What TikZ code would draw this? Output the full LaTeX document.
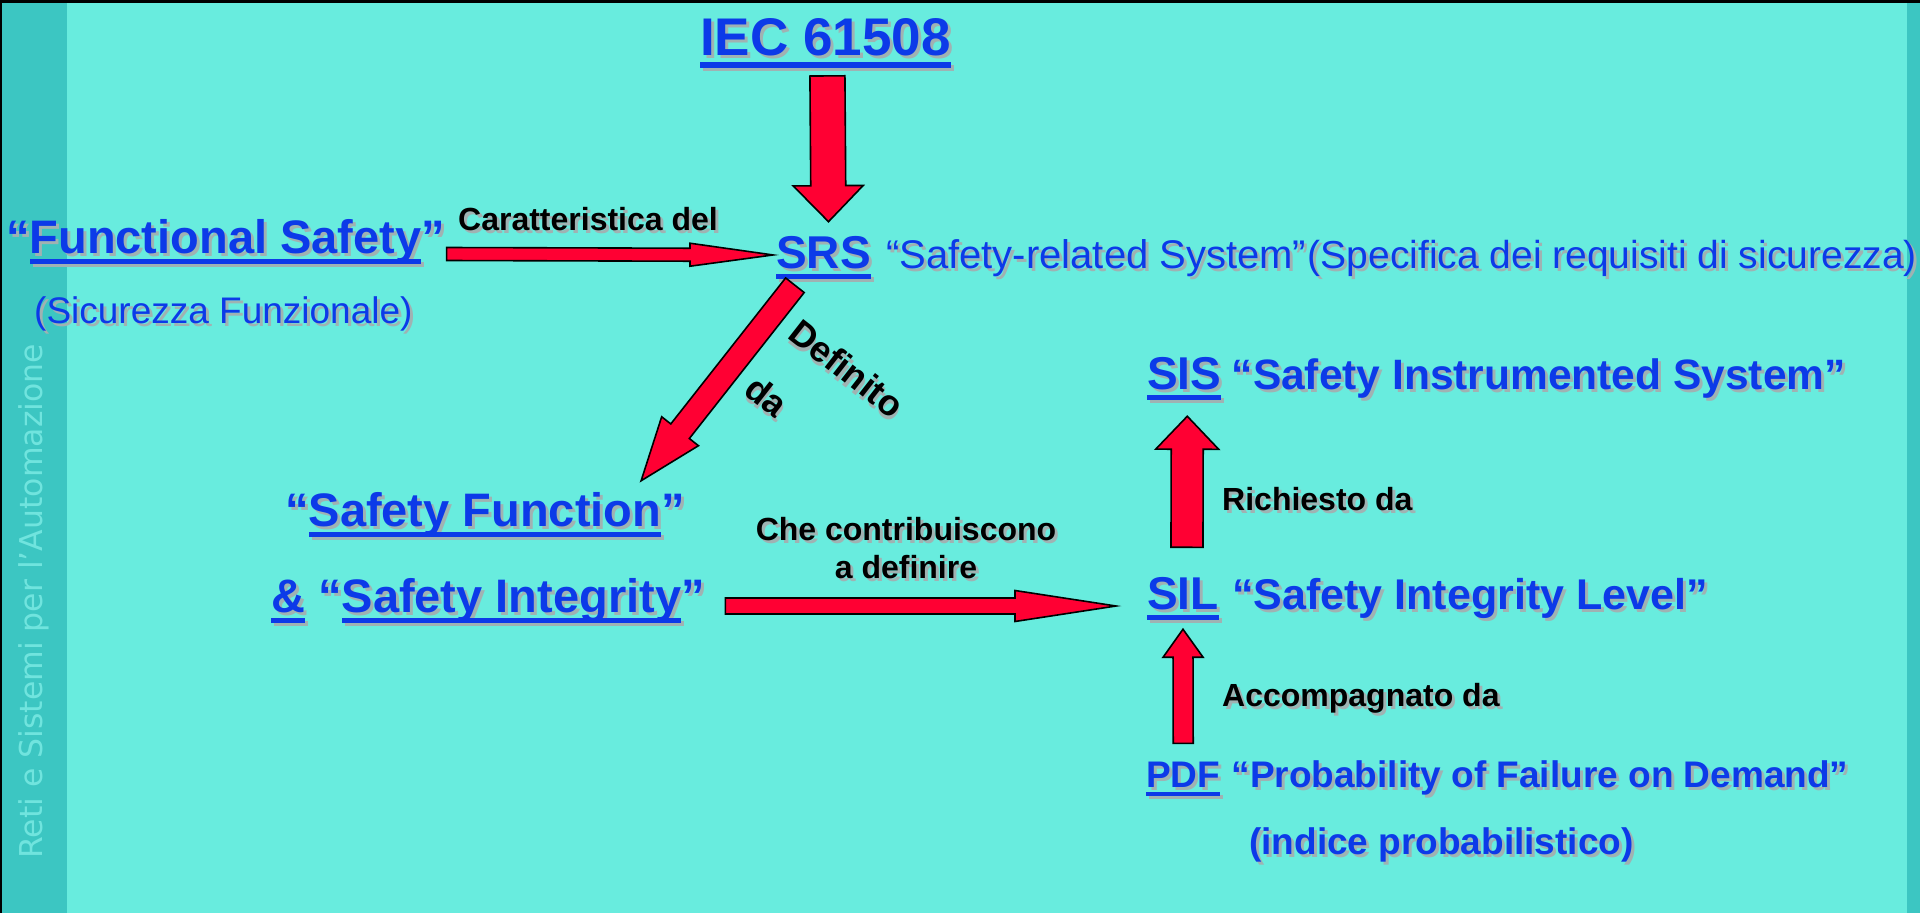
\documentclass[tikz,border=0pt]{standalone}
\usepackage{fontspec}
\setmainfont{Liberation Sans}
\newfontfamily\stripfont{DejaVu Sans}
\usetikzlibrary{calc,positioning}

\definecolor{bgcyan}{RGB}{104,236,222}
\definecolor{stripteal}{RGB}{60,198,194}
\definecolor{striptext}{RGB}{112,228,222}
\definecolor{textblue}{RGB}{12,58,232}
\definecolor{arrowred}{RGB}{255,0,51}
\definecolor{shade}{RGB}{160,178,178}

% underline and drop shadow
\newsavebox\ulbox
\newcommand{\ulin}[1]{\sbox\ulbox{#1}\rlap{\rule[-0.24em]{\wd\ulbox}{0.11em}}\usebox\ulbox}
\newcommand{\shd}[1]{\makebox[0pt][l]{\kern3pt\raisebox{-3pt}{\color{shade}#1}}#1}

% fat arrow: tail, tip, shaft half width, head half width, head length
\newcommand{\blockarrow}[5]{%
  \coordinate (ba-t) at (#1);
  \coordinate (ba-p) at (#2);
  \coordinate (ba-h) at ($(ba-p)!#5!(ba-t)$);
  \filldraw[fatarrow] ($(ba-t)!#3!90:(ba-p)$) -- ($(ba-h)!#3!-90:(ba-t)$)
    -- ($(ba-h)!#4!-90:(ba-t)$) -- (ba-p) -- ($(ba-h)!#4!90:(ba-t)$)
    -- ($(ba-h)!#3!90:(ba-t)$) -- ($(ba-t)!#3!-90:(ba-p)$) -- cycle;}

\tikzset{
  every node/.style={inner sep=0pt},
  titleterm/.style={text=textblue, font=\fontsize{53}{60}\selectfont\bfseries},
  keyterm/.style={text=textblue, font=\fontsize{47}{56}\selectfont\bfseries},
  abbr/.style={text=textblue, font=\fontsize{46}{54}\selectfont\bfseries},
  quoted/.style={text=textblue, font=\fontsize{42.5}{50}\selectfont\bfseries},
  pdfterm/.style={text=textblue, font=\fontsize{37}{44}\selectfont\bfseries},
  descterm/.style={text=textblue, font=\fontsize{40}{48}\selectfont},
  subterm/.style={text=textblue, font=\fontsize{37}{44}\selectfont},
  arrowlabel/.style={text=black, font=\fontsize{32}{38}\selectfont\bfseries},
  rotlabel/.style={text=black, font=\fontsize{36}{42}\selectfont\bfseries, rotate=-38},
  striplabel/.style={text=striptext, font=\fontsize{31.5}{36}\stripfont},
  fatarrow/.style={fill=arrowred, draw=black, line width=1.6pt, line join=miter}
}

\begin{document}
\begin{tikzpicture}[x=1pt,y=1pt]
  \useasboundingbox (0,0) rectangle (1920,-913);
  % slide background
  \fill[bgcyan] (0,0) rectangle (1920,-913);
  \fill[stripteal] (0,0) rectangle (67,-913);
  \fill[stripteal] (1907,0) rectangle (1920,-913);
  \fill[black] (0,0) rectangle (1920,-2.5);
  \fill[black] (0,0) rectangle (1.5,-913);
  \node[striplabel, rotate=90, anchor=base west] (course) at (42,-859) {Reti e Sistemi per l’Automazione};

  % terms
  \node[titleterm, anchor=base west] (iec) at (700,-55) {\shd{\ulin{IEC 61508}}};
  \node[keyterm, anchor=base west] (fs) at (6,-253) {\shd{“\ulin{Functional Safety}”}};
  \node[subterm, anchor=base west] (fsit) at (34,-323) {\shd{(Sicurezza Funzionale)}};
  \node[abbr, anchor=base west] (srs) at (776,-268) {\shd{\ulin{SRS}}};
  \node[descterm, base right=15pt of srs] (srsdesc) {\shd{“Safety-related System”}};
  \node[subterm, font=\fontsize{39}{46}\selectfont, base right=1pt of srsdesc] (srsspec) {\shd{(Specifica dei requisiti di sicurezza)}};
  \node[keyterm, anchor=base west] (sf) at (285,-526) {\shd{“\ulin{Safety Function}”}};
  \node[keyterm, anchor=base west] (si) at (271,-612) {\shd{\ulin{\&} “\ulin{Safety Integrity}”}};
  \node[abbr, anchor=base west] (sis) at (1147,-389) {\shd{\ulin{SIS}}};
  \node[quoted, base right=10pt of sis] (sisdesc) {\shd{“Safety Instrumented System”}};
  \node[abbr, anchor=base west] (sil) at (1147,-609) {\shd{\ulin{SIL}}};
  \node[quoted, font=\fontsize{43}{50}\selectfont\bfseries, base right=13pt of sil] (sildesc) {\shd{“Safety Integrity Level”}};
  \node[pdfterm, anchor=base west] (pdf) at (1146,-787) {\shd{\ulin{PDF}}};
  \node[pdfterm, base right=11pt of pdf] (pdfdesc) {\shd{“Probability of Failure on Demand”}};
  \node[pdfterm, anchor=base west] (pdfidx) at (1249,-854) {\shd{(indice probabilistico)}};

  % arrow labels
  \node[arrowlabel, anchor=base west] (car) at (458,-230) {\shd{Caratteristica del}};
  \node[rotlabel, anchor=base west] (defin) at (786,-337) {\shd{Definito}};
  \node[rotlabel, anchor=base west] (defda) at (742,-393) {\shd{da}};
  \node[arrowlabel, anchor=base] (che) at (906,-540) {\shd{Che contribuiscono}};
  \node[arrowlabel, anchor=base] (chedef) at ($(che.base)+(0,-38)$) {\shd{a definire}};
  \node[arrowlabel, anchor=base west] (rich) at (1222,-510) {\shd{Richiesto da}};
  \node[arrowlabel, anchor=base west] (acc) at (1222,-706) {\shd{Accompagnato da}};

  % arrows
  \blockarrow{$(iec.south)+(2,-5)$}{$(srs.north)+(5,14)$}{17.5pt}{35pt}{36pt}
  \blockarrow{$(fs.base east)+(1.5,-1)$}{$(srs.west)+(-3,4)$}{6.5pt}{11.5pt}{83pt}
  \blockarrow{$(srs.south)+(-28.6,-3)$}{$(sf.north east)+(-43.8,11)$}{11.8pt}{23.4pt}{63pt}
  \blockarrow{$(si.base east)+(20.5,6)$}{$(sil.base west)+(-31,3)$}{8pt}{15.5pt}{101pt}
  \blockarrow{$(sil.north)+(4,29.4)$}{$(sis.south)+(3,-13)$}{16pt}{31.5pt}{33pt}
  \blockarrow{$(pdf.north)+(0,18)$}{$(sil.south)+(0,-6)$}{10pt}{20pt}{28pt}
\end{tikzpicture}
\end{document}
